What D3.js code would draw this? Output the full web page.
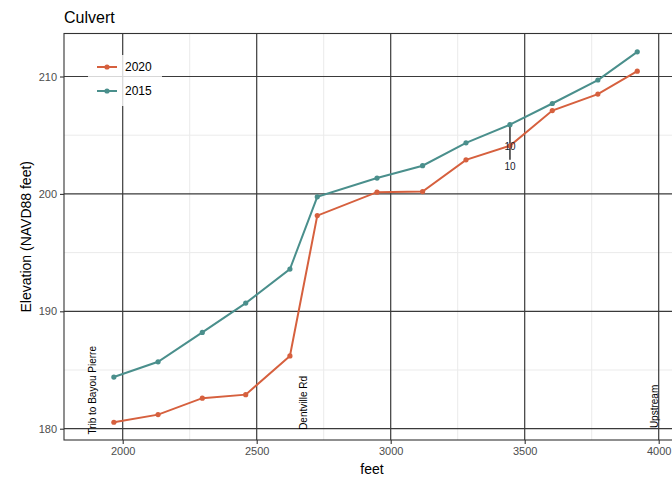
<!DOCTYPE html>
<html>
<head>
<meta charset="utf-8">
<script src="https://cdn.jsdelivr.net/npm/d3@7"></script>
<style>
  body { margin: 0; background: #fff; }
  text { font-family: "Liberation Sans", Arial, sans-serif; }
</style>
</head>
<body>
<svg id="chart" width="672" height="479"></svg>
<script>
// station (feet) and elevation readings
var feet = [1967, 2132, 2297, 2459, 2624, 2726, 2949, 3119, 3281, 3445, 3603, 3773, 3920];
var elev2020 = [180.55, 181.2, 182.6, 182.9, 186.2, 198.15, 200.15, 200.2, 202.9, 204.1, 207.1, 208.5, 210.45];
var elev2015 = [184.4, 185.7, 188.2, 190.7, 193.6, 199.75, 201.35, 202.4, 204.35, 205.9, 207.7, 209.7, 212.1];
var seriesNames = ["2020", "2015"];
var seriesColors = ["#d6603e", "#4a8f8c"];

var xMajor = [2000, 2500, 3000, 3500, 4000];
var xMinor = [2250, 2750, 3250, 3750];
var yMajor = [180, 190, 200, 210];
var yMinor = [185, 195, 205];

// road / stream labels along the profile
var siteNames = ["Trib to Bayou Pierre", "Dentville Rd", "Upstream"];
var siteFeet = [1889, 2676, 3986];
var siteElev = [179.5, 179.9, 180.05];

// culvert marker
var culvertFeet = 3445;
var culvertTop = 205.9;
var culvertBottom = 202.9;
var culvertLabels = ["10", "10"];
var culvertLabelElev = [204.0, 202.3];

var margin = { left: 64, right: -8, top: 33.5, bottom: 39 };
var W = 672, H = 479;
var svg = d3.select("#chart");

var x = d3.scaleLinear().domain([2000, 4000]).range([122.7, 658.7]);
var y = d3.scaleLinear().domain([180, 210]).range([428.7, 76.5]);
var x0 = margin.left, x1 = W - margin.right, y0 = margin.top, y1 = H - margin.bottom;

// title
svg.append("text").attr("x", 64).attr("y", 23).attr("font-size", 16).attr("fill", "#000").text("Culvert");

var g = svg.append("g");

// minor grid
g.selectAll(".xmin").data(xMinor).enter().append("line")
  .attr("x1", d => x(d)).attr("x2", d => x(d)).attr("y1", y0).attr("y2", y1)
  .attr("stroke", "#ebebeb").attr("stroke-width", 1);
g.selectAll(".ymin").data(yMinor).enter().append("line")
  .attr("x1", x0).attr("x2", x1).attr("y1", d => y(d)).attr("y2", d => y(d))
  .attr("stroke", "#ebebeb").attr("stroke-width", 1);

// major grid (dark)
g.selectAll(".xmaj").data(xMajor).enter().append("line")
  .attr("x1", d => x(d)).attr("x2", d => x(d)).attr("y1", y0).attr("y2", y1)
  .attr("stroke", "#3a3a3a").attr("stroke-width", 1.2);
g.selectAll(".ymaj").data(yMajor).enter().append("line")
  .attr("x1", x0).attr("x2", x1).attr("y1", d => y(d)).attr("y2", d => y(d))
  .attr("stroke", "#3a3a3a").attr("stroke-width", 1.2);

// panel border
g.append("rect").attr("x", x0).attr("y", y0).attr("width", x1 - x0).attr("height", y1 - y0)
  .attr("fill", "none").attr("stroke", "#333").attr("stroke-width", 1.1);

// culvert marker
g.append("line").attr("x1", x(culvertFeet)).attr("x2", x(culvertFeet))
  .attr("y1", y(culvertTop)).attr("y2", y(culvertBottom))
  .attr("stroke", "#111").attr("stroke-width", 1.3);

// series lines and points
var series = [elev2020, elev2015];
var line = d3.line().x((d, i) => x(feet[i])).y(d => y(d));
series.forEach(function (vals, k) {
  g.append("path").datum(vals).attr("d", line)
    .attr("fill", "none").attr("stroke", seriesColors[k]).attr("stroke-width", 2);
  g.selectAll(".pt" + k).data(vals).enter().append("circle")
    .attr("cx", (d, i) => x(feet[i])).attr("cy", d => y(d)).attr("r", 2.6)
    .attr("fill", seriesColors[k]);
});

g.selectAll(".clab").data(culvertLabels).enter().append("text")
  .attr("x", x(culvertFeet)).attr("y", (d, i) => y(culvertLabelElev[i]))
  .attr("text-anchor", "middle").attr("dominant-baseline", "central")
  .attr("font-size", 10).attr("fill", "#1a1a2e").text(d => d);

// site labels, vertical
g.selectAll(".site").data(siteNames).enter().append("text")
  .attr("transform", (d, i) => "translate(" + x(siteFeet[i]) + "," + y(siteElev[i]) + ") rotate(-90)")
  .attr("dominant-baseline", "central")
  .attr("font-size", 10).attr("fill", "#000").text(d => d);

// axes
var xAxis = d3.axisBottom(x).tickValues(xMajor).tickFormat(d3.format("d")).tickSize(4).tickPadding(3);
var yAxis = d3.axisLeft(y).tickValues(yMajor).tickFormat(d3.format("d")).tickSize(4).tickPadding(3);
var gx = svg.append("g").attr("transform", "translate(0," + y1 + ")").call(xAxis);
var gy = svg.append("g").attr("transform", "translate(" + x0 + ",0)").call(yAxis);
[gx, gy].forEach(function (a) {
  a.select(".domain").remove();
  a.selectAll(".tick line").attr("stroke", "#333").attr("stroke-width", 1.1);
  a.selectAll(".tick text").attr("fill", "#4d4d4d").attr("font-size", 11)
    .attr("font-family", "Liberation Sans, Arial, sans-serif");
});

svg.append("text").attr("x", (x0 + x1) / 2).attr("y", 474).attr("text-anchor", "middle")
  .attr("font-size", 14).attr("fill", "#000").text("feet");
svg.append("text").attr("transform", "translate(31," + ((y0 + y1) / 2) + ") rotate(-90)")
  .attr("text-anchor", "middle").attr("font-size", 14).attr("fill", "#000")
  .text("Elevation (NAVD88 feet)");

// legend
var lg = svg.append("g");
lg.append("rect").attr("x", 88).attr("y", 55).attr("width", 74).attr("height", 51)
  .attr("fill", "#fff").attr("fill-opacity", 0.8);
seriesNames.forEach(function (name, k) {
  var yy = 67 + k * 24;
  lg.append("line").attr("x1", 97).attr("x2", 117).attr("y1", yy).attr("y2", yy)
    .attr("stroke", seriesColors[k]).attr("stroke-width", 2);
  lg.append("circle").attr("cx", 107).attr("cy", yy).attr("r", 2.6).attr("fill", seriesColors[k]);
  lg.append("text").attr("x", 125).attr("y", yy).attr("dominant-baseline", "central")
    .attr("font-size", 12).attr("fill", "#000").text(name);
});
</script>
</body>
</html>
